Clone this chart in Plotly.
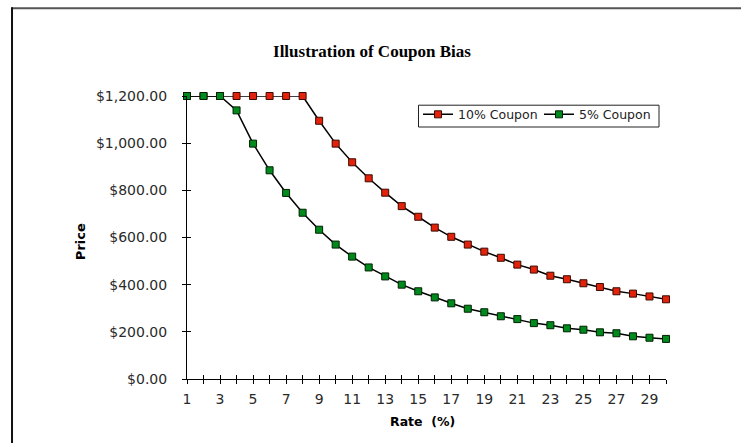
import plotly.graph_objects as go

rates = list(range(1, 31))
coupon10 = [1200, 1200, 1200, 1200, 1200, 1200, 1200, 1200, 1095, 998,
            919, 851, 790, 733, 688, 642, 603, 570, 540, 514,
            485, 464, 438, 423, 406, 390, 372, 362, 350, 338]
coupon5 = [1200, 1200, 1200, 1139, 998, 885, 789, 705, 633, 570,
           519, 473, 435, 400, 372, 346, 321, 298, 283, 266,
           254, 237, 228, 215, 209, 198, 194, 181, 175, 170]
x_tick_text = [str(r) if r % 2 == 1 else "" for r in rates]
y_ticks = [0, 200, 400, 600, 800, 1000, 1200]
y_tick_text = ["$0.00", "$200.00", "$400.00", "$600.00", "$800.00", "$1,000.00", "$1,200.00"]

W, H = 741, 443
L, R, T, B = 186.7, 74.7, 96.3, 63.7
pw, ph = W - L - R, H - T - B

def px(x):
    return (x - L) / pw

def py(y):
    return (H - B - y) / ph

fig = go.Figure()
fig.add_trace(go.Scatter(
    x=rates, y=coupon10, name="10% Coupon", mode="lines+markers",
    line=dict(color="black", width=1.5),
    marker=dict(symbol="square", size=7, color="#e3220b", line=dict(color="#3a0a00", width=1)),
    cliponaxis=False))
fig.add_trace(go.Scatter(
    x=rates, y=coupon5, name="5% Coupon", mode="lines+markers",
    line=dict(color="black", width=1.5),
    marker=dict(symbol="square", size=7, color="#00891c", line=dict(color="#002000", width=1)),
    cliponaxis=False))
# invisible trace to carry the inner-tick overlay axes
fig.add_trace(go.Scatter(x=[rates[0]], y=[y_ticks[0]], xaxis="x2", yaxis="y2",
                         mode="markers", marker=dict(opacity=0), showlegend=False,
                         hoverinfo="skip"))

tickfont = dict(family="DejaVu Sans", size=14, color="#2a2a2a")
fig.update_layout(
    width=W, height=H,
    margin=dict(l=L, r=R, t=T, b=B, pad=0),
    paper_bgcolor="white", plot_bgcolor="white",
    showlegend=True,
    title=dict(text="<b>Illustration of Coupon Bias</b>", x=372 / W, xanchor="center",
               y=1 - 50.7 / H, yanchor="middle",
               font=dict(family="Liberation Serif", size=17, color="black")),
    xaxis=dict(range=[1, 30], tickvals=rates, ticktext=x_tick_text, ticks="outside",
               ticklen=4, tickwidth=1, tickcolor="black", showline=True, linecolor="black",
               linewidth=1, showgrid=False, zeroline=False, tickfont=tickfont,
               ticklabelstandoff=3),
    yaxis=dict(range=[0, 1200], tickvals=y_ticks, ticktext=y_tick_text, ticks="outside",
               ticklen=4, tickwidth=1, tickcolor="black", showline=True, linecolor="black",
               linewidth=1, showgrid=False, zeroline=False, tickfont=tickfont,
               ticklabelstandoff=12),
    xaxis2=dict(range=[1, 30], overlaying="x", tickvals=rates, ticks="inside", ticklen=4,
                tickcolor="black", showticklabels=False, showgrid=False, zeroline=False,
                showline=False),
    yaxis2=dict(range=[0, 1200], overlaying="y", tickvals=y_ticks, ticks="inside", ticklen=4,
                tickcolor="black", showticklabels=False, showgrid=False, zeroline=False,
                showline=False),
    legend=dict(x=px(418), y=py(100), xanchor="left", yanchor="top",
                orientation="h", borderwidth=0, bgcolor="rgba(0,0,0,0)",
                font=dict(family="DejaVu Sans", size=12.5, color="#222"),
                itemwidth=30, entrywidth=76, tracegroupgap=0),
    annotations=[
        dict(text="<b>Rate\u00a0\u00a0(%)</b>", x=px(422), y=py(421.7), xref="paper", yref="paper",
             xanchor="center", yanchor="middle", showarrow=False,
             font=dict(family="DejaVu Sans", size=12.5, color="black")),
        dict(text="<b>Price</b>", x=px(80), y=py(242), xref="paper", yref="paper",
             xanchor="center", yanchor="middle", showarrow=False, textangle=-90,
             font=dict(family="DejaVu Sans", size=13, color="black")),
    ],
    shapes=[
        dict(type="line", xref="paper", yref="paper", x0=px(11), x1=px(760), y0=py(8.5), y1=py(8.5),
             line=dict(color="#555", width=2)),
        dict(type="line", xref="paper", yref="paper", x0=px(11.5), x1=px(11.5), y0=py(7.5), y1=py(460),
             line=dict(color="#111", width=2)),
        dict(type="rect", xref="paper", yref="paper", x0=px(418.5), x1=px(659.3),
             y0=py(127.3), y1=py(105.5), line=dict(color="#222", width=1),
             fillcolor="rgba(0,0,0,0)", layer="above"),
    ],
)

fig.write_html("out.html")
